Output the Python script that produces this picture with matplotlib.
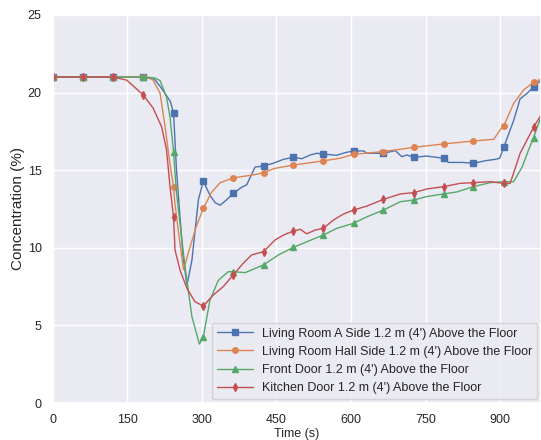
import numpy as np
import matplotlib
matplotlib.use("Agg")
import matplotlib.pyplot as plt
import seaborn as sns

sns.set_theme(style="darkgrid")
plt.rcParams['font.family'] = ['Liberation Sans', 'DejaVu Sans']

# marker times (s)
mark_t = [1, 61, 122, 182, 243, 303, 363, 424, 484, 544, 605, 665, 726, 786, 846, 907, 967]

# Living Room A Side
t_a = [1, 61, 122, 182, 205, 216, 229, 237, 243, 249, 255, 262, 270, 280, 293, 303, 316, 327, 337, 350, 363, 380,
       390, 407, 424, 444, 464, 484, 501, 518, 531, 544, 571, 588, 605, 625, 632, 638, 665, 689, 702,
       712, 726, 752, 786, 796, 826, 846, 870, 890, 899, 907, 927, 940, 954, 967, 982]
v_a = [21.0, 21.0, 21.0, 21.0, 20.85, 20.4, 19.8, 19.4, 18.7, 15.0, 12.4, 9.5, 7.6, 9.2, 13.1, 14.3, 13.4, 12.9, 12.75, 13.1, 13.5, 13.9,
       14.05, 15.2, 15.27, 15.45, 15.7, 15.83, 15.74, 15.98, 16.09, 16.04, 15.96, 16.13, 16.24, 16.24, 16.09, 16.09, 16.09, 16.26, 15.87,
       15.98, 15.83, 15.91, 15.77, 15.5, 15.5, 15.44, 15.61, 15.7, 15.77, 16.47, 18.2, 19.6, 19.95, 20.35, 20.8]

# Living Room Hall Side
t_h = [1, 61, 122, 182, 195, 202, 216, 226, 235, 243, 245, 253, 263, 273, 288, 303, 320, 337, 363, 404, 424,
       447, 484, 544, 578, 605, 665, 726, 786, 846, 887, 900, 907, 927, 947, 967, 982]
v_h = [21.0, 21.0, 21.0, 21.0, 20.95, 20.8, 19.95, 17.8, 15.6, 13.9, 13.1, 11.0, 8.6, 9.7, 11.3, 12.55, 13.6, 14.2, 14.5, 14.7, 14.84,
       15.12, 15.33, 15.6, 15.77, 16.02, 16.2, 16.47, 16.69, 16.88, 16.99, 17.6, 17.85, 19.3, 20.17, 20.66, 20.86]

# Front Door
t_f = [1, 61, 122, 182, 205, 216, 229, 236, 243, 249, 256, 266, 280, 295, 303, 316, 333, 353, 363, 387, 424,
       454, 484, 524, 544, 571, 605, 632, 665, 699, 726, 752, 786, 813, 846, 880, 907, 927, 944, 957, 967, 982]
v_f = [21.0, 21.0, 21.0, 21.0, 20.95, 20.77, 19.7, 18.4, 16.2, 13.5, 11.6, 8.8, 5.56, 3.8, 4.27, 6.6, 7.9, 8.46, 8.46, 8.4, 8.9,
       9.54, 10.03, 10.56, 10.82, 11.25, 11.58, 12.0, 12.43, 12.97, 13.08, 13.3, 13.47, 13.6, 13.94, 14.2, 14.26, 14.26, 15.2, 16.3, 17.1, 18.45]

# Kitchen Door
t_k = [1, 61, 122, 149, 182, 202, 219, 229, 236, 243, 246, 256, 270, 286, 303, 323, 343, 363, 383, 400, 424,
       447, 464, 484, 498, 511, 528, 544, 565, 585, 605, 632, 665, 699, 726, 752, 786, 819, 846, 880, 907, 920, 940, 967, 982]
v_k = [21.0, 21.0, 21.0, 20.8, 19.85, 19.0, 17.8, 16.3, 13.9, 12.0, 9.86, 8.57, 7.39, 6.53, 6.25, 6.96, 7.5, 8.25, 9.0, 9.54, 9.75,
       10.5, 10.82, 11.08, 11.19, 10.9, 11.15, 11.25, 11.8, 12.18, 12.43, 12.69, 13.12, 13.47, 13.55, 13.79, 13.94, 14.15, 14.2, 14.26, 14.15, 14.15, 16.09, 17.76, 18.56]

labels = ["Living Room A Side 1.2 m (4') Above the Floor",
          "Living Room Hall Side 1.2 m (4') Above the Floor",
          "Front Door 1.2 m (4') Above the Floor",
          "Kitchen Door 1.2 m (4') Above the Floor"]

series = [(t_a, v_a, 's', 4.5), (t_h, v_h, 'o', 4), (t_f, v_f, '^', 4), (t_k, v_k, 'd', 4)]
colors = sns.color_palette("deep")

fig = plt.figure(figsize=(5.41, 4.40), dpi=100)
ax = fig.add_axes([0.0974, 0.084, 0.9026, 0.882])

for (t, v, m, ms), lab, c in zip(series, labels, colors):
    idx = [i for i, x in enumerate(t) if x in mark_t]
    ax.plot(t, v, color=c, lw=1.0, marker=m, markersize=ms, markevery=idx, label=lab)

ax.set_xlim(0, 982)
ax.set_ylim(0, 25)
ax.set_xticks(np.arange(0, 901, 150))
ax.set_yticks(np.arange(0, 26, 5))
ax.tick_params(labelsize=9, pad=2)
ax.set_xlabel("Time (s)", fontsize=9, labelpad=1)
ax.set_ylabel("Concentration (%)", fontsize=11, labelpad=2)
ax.legend(loc="lower right", fontsize=9, borderaxespad=0.3, handlelength=2.9, handletextpad=0.7)

fig.savefig("out.png", dpi=100)
